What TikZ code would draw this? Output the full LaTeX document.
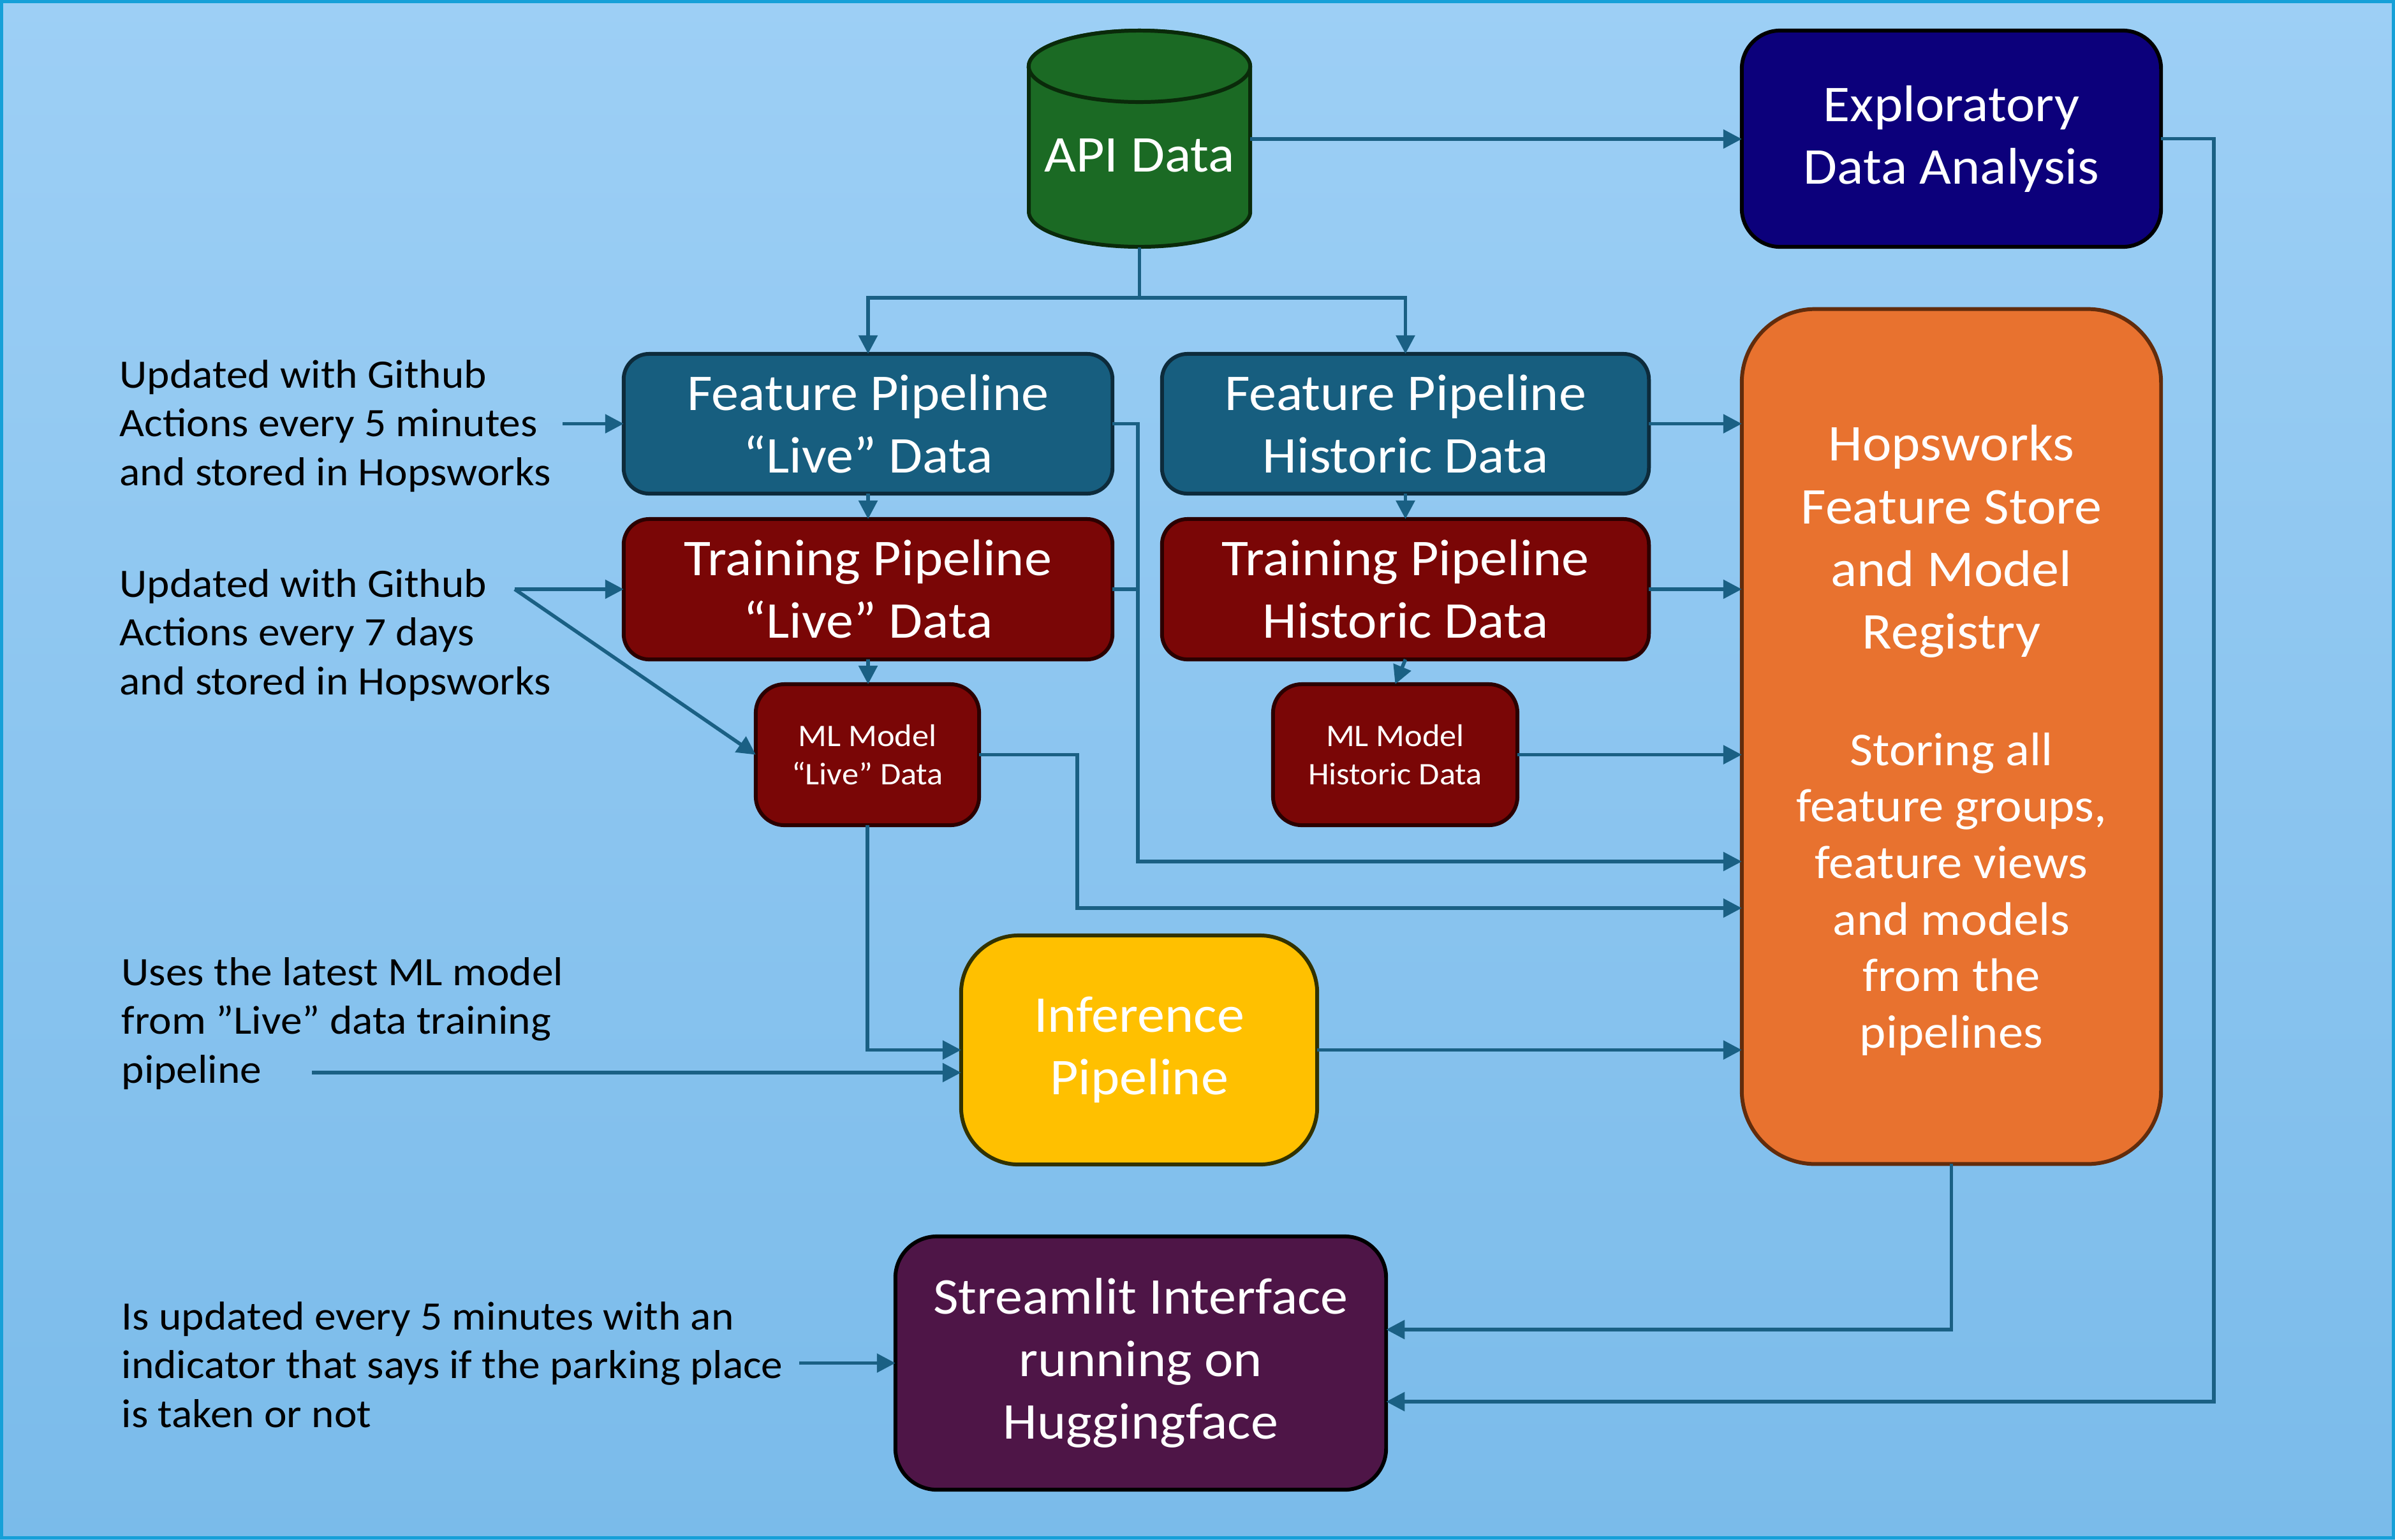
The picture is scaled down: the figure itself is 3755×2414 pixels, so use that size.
\documentclass[tikz,border=0pt]{standalone}
\usepackage{fontspec}
\setmainfont[FakeStretch=1.065]{Carlito}
\usetikzlibrary{arrows.meta,calc}
\definecolor{bgtop}{HTML}{9DCFF5}
\definecolor{bgbot}{HTML}{7ABBEA}
\definecolor{frame}{HTML}{16A0D8}
\definecolor{conncol}{HTML}{1A6084}
\definecolor{fpfill}{HTML}{175E7F}
\definecolor{fpline}{HTML}{0D2B3B}
\definecolor{tpfill}{HTML}{7A0606}
\definecolor{tpline}{HTML}{2B0000}
\definecolor{apifill}{HTML}{1B6A24}
\definecolor{apiline}{HTML}{0A2A0A}
\definecolor{edafill}{HTML}{0C007B}
\definecolor{hwfill}{HTML}{E8722F}
\definecolor{hwline}{HTML}{622C0C}
\definecolor{inffill}{HTML}{FFC000}
\definecolor{infline}{HTML}{323200}
\definecolor{stfill}{HTML}{4E1547}
\begin{document}
\begin{tikzpicture}[x=0.01cm,y=0.01cm,
  box/.style={draw, line width=1.7pt, inner sep=0pt, outer sep=0pt, align=center, text=white,
    font=\fontsize{23}{27.9}\selectfont},
  smallbox/.style={box, font=\fontsize{14}{17}\selectfont},
  side/.style={anchor=west, align=left, text=black, inner sep=0pt, font=\fontsize{18}{21.8}\selectfont},
  conn/.style={draw=conncol, line width=1.6pt, -{Triangle[length=0.29cm,width=0.29cm]}},
  plainline/.style={draw=conncol, line width=1.6pt}]
\useasboundingbox (0,0) rectangle (3755,-2414);
\shade[top color=bgtop, bottom color=bgbot] (0,0) rectangle (3755,-2414);
\draw[frame, line width=1.5pt] (2.5,-2.5) rectangle (3752.5,-2411.5);

% cylinder
\path[fill=apifill, draw=apiline, line width=1.7pt] (1613,-104) -- (1613,-332)
  arc[start angle=180, end angle=360, x radius=1.735cm, y radius=0.55cm] -- (1960,-104)
  arc[start angle=0, end angle=180, x radius=1.735cm, y radius=0.56cm] -- cycle;
\draw[fill=apifill, draw=apiline, line width=1.7pt] (1786.5,-104) ellipse[x radius=1.735cm, y radius=0.56cm];
\node[inner sep=0pt, outer sep=0pt, minimum width=3.47cm, minimum height=3.40cm] (api) at (1786.5,-218) {};
\node[text=white, inner sep=0pt, font=\fontsize{23}{27.9}\selectfont] (apit) at (1786.5,-244) {API Data};

% boxes
\node[box, fill=fpfill, draw=fpline, rounded corners=0.4cm, minimum width=7.66cm, minimum height=2.19cm] (fpl) at (1361,-664.5) {Feature Pipeline\\“Live” Data};
\node[box, fill=fpfill, draw=fpline, rounded corners=0.4cm, minimum width=7.63cm, minimum height=2.19cm] (fph) at (2203.5,-664.5) {Feature Pipeline\\Historic Data};
\node[box, fill=tpfill, draw=tpline, rounded corners=0.4cm, minimum width=7.66cm, minimum height=2.20cm] (tpl) at (1361,-924) {Training Pipeline\\“Live” Data};
\node[box, fill=tpfill, draw=tpline, rounded corners=0.4cm, minimum width=7.63cm, minimum height=2.20cm] (tph) at (2203.5,-924) {Training Pipeline\\Historic Data};
\node[smallbox, fill=tpfill, draw=tpline, rounded corners=0.45cm, minimum width=3.50cm, minimum height=2.21cm] (mll) at (1360,-1183.5) {ML Model\\“Live” Data};
\node[smallbox, fill=tpfill, draw=tpline, rounded corners=0.45cm, minimum width=3.83cm, minimum height=2.21cm] (mlh) at (2187.5,-1183.5) {ML Model\\Historic Data};
\node[box, fill=inffill, draw=infline, rounded corners=0.9cm, minimum width=5.58cm, minimum height=3.59cm] (inf) at (1786,-1646.5) {Inference\\Pipeline};
\node[box, fill=edafill, draw=black, rounded corners=0.6cm, minimum width=6.57cm, minimum height=3.39cm] (eda) at (3059.5,-217.5) {Exploratory\\Data Analysis};
\node[box, fill=hwfill, draw=hwline, rounded corners=1.15cm, minimum width=6.57cm, minimum height=13.40cm] (hw) at (3059.5,-1155) {};
\node[text=white, align=center, inner sep=0pt, font=\fontsize{23}{27.9}\selectfont] (hwt1) at (3059.5,-849) {Hopsworks\\Feature Store\\and Model\\Registry};
\node[text=white, align=center, inner sep=0pt, font=\fontsize{21}{25.2}\selectfont] (hwt2) at (3059.5,-1402) {Storing all\\feature groups,\\feature views\\and models\\from the\\pipelines};
\node[box, fill=stfill, draw=black, rounded corners=0.65cm, minimum width=7.69cm, minimum height=3.97cm] (st) at (1788.5,-2137.5) {Streamlit Interface\\running on\\Huggingface};

% side texts
\node[side] (t1) at (187,-668) {Updated with Github\\Actions every 5 minutes\\and stored in Hopsworks};
\node[side] (t2) at (187,-996) {Updated with Github\\Actions every 7 days\\and stored in Hopsworks};
\node[side] (t3) at (190,-1605) {Uses the latest ML model\\from ”Live” data training\\pipeline};
\node[side] (t4) at (190,-2140) {Is updated every 5 minutes with an\\indicator that says if the parking place\\is taken or not};

% connectors
\coordinate (s) at (1786.5,-467);
\draw[plainline] (api.south) -- (s);
\draw[conn] (s) -| (fpl.north);
\draw[conn] (s) -| (fph.north);
\draw[conn] (api.east) -- (api.east -| eda.west);
\draw[conn] (fpl.south) -- (tpl.north);
\draw[conn] (fph.south) -- (tph.north);
\draw[conn] (tpl.south) -- (tpl.south |- mll.north);
\draw[conn] (tph.south) -- (mlh.north);
\coordinate (j1) at (1784,-1351);
\draw[conn] (fpl.east) -| (j1) -- (j1 -| hw.west);
\draw[plainline] (tpl.east) -- (tpl.east -| j1);
\draw[conn] (fph.east) -- (fph.east -| hw.west);
\draw[conn] (tph.east) -- (tph.east -| hw.west);
\draw[conn] (mlh.east) -- (mlh.east -| hw.west);
\coordinate (j2) at (1689,-1424);
\draw[conn] (mll.east) -| (j2) -- (j2 -| hw.west);
\draw[conn] (mll.south) |- (inf.west);
\draw[conn] (inf.east) -- (inf.east -| hw.west);
\coordinate (a1) at (882,-664.5);
\draw[conn] (a1) -- (fpl.west);
\coordinate (a2) at (807,-924);
\draw[conn] (a2) -- (tpl.west);
\draw[conn] (a2) -- (mll.west);
\coordinate (a3) at (489,-1682);
\draw[conn] (a3) -- (a3 -| inf.west);
\coordinate (j3) at (3059.5,-2085);
\draw[conn] (hw.south) -- (j3) -- (j3 -| st.east);
\coordinate (j4) at (3471,-2198);
\draw[conn] (eda.east) -| (j4) -- (j4 -| st.east);
\coordinate (a4) at (1253,-2137.5);
\draw[conn] (a4) -- (st.west);
\end{tikzpicture}
\end{document}
